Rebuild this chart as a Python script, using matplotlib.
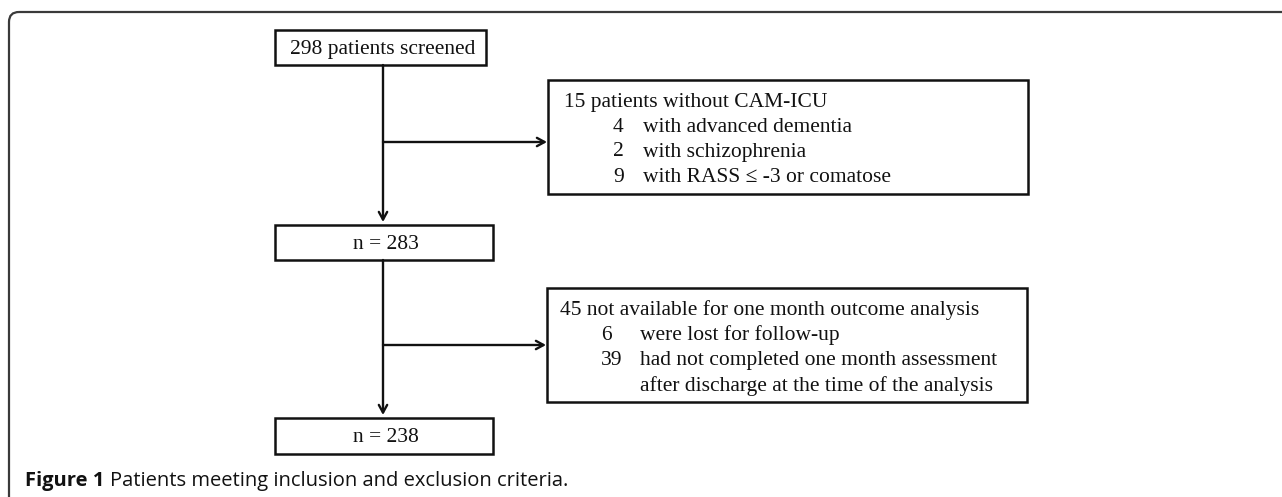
import matplotlib
matplotlib.use('Agg')
import matplotlib.pyplot as plt
from matplotlib.patches import Rectangle, FancyBboxPatch

#=======================================================================================
# Flowchart content
#=======================================================================================

main_labels = ['298 patients screened', 'n = 283', 'n = 238']

excl1_head = '15 patients without CAM-ICU'
excl1_nums = ['4', '2', '9']
excl1_text = ['with advanced dementia', 'with schizophrenia', 'with RASS \u2264 -3 or comatose']

excl2_head = '45 not available for one month outcome analysis'
excl2_nums = ['6', '39', '']
excl2_text = ['were lost for follow-up', 'had not completed one month assessment',
              'after discharge at the time of the analysis']

caption_bold = 'Figure 1'
caption_text = 'Patients meeting inclusion and exclusion criteria.'

#=======================================================================================
# Layout (pixels, origin top-left)
#=======================================================================================

W, H = 1282, 497
main_boxes = [(275, 30, 486, 65), (275, 225, 493, 260), (275, 418, 493, 454)]
excl_boxes = [(548, 80, 1028, 194), (547, 288, 1027, 402)]
xline = 383
branch_y = [142, 345]

serif = 'Liberation Serif'
fs = 15.5
lc = '#111111'
astyle = dict(arrowstyle='->,head_length=0.55,head_width=0.3', color=lc, lw=1.7,
              shrinkA=0, shrinkB=0)

fig = plt.figure(figsize=(W / 100, H / 100), dpi=100)
ax = fig.add_axes([0, 0, 1, 1])
ax.set_xlim(0, W)
ax.set_ylim(H, 0)
ax.axis('off')

#Outer frame (cut at right and bottom)
frame = FancyBboxPatch((9, 12), W + 40, H + 40, boxstyle='round,pad=0,rounding_size=10',
                       fill=False, ec='#3a3a3a', lw=1.6)
ax.add_patch(frame)

def box(b, lw=1.8):
    x0, y0, x1, y1 = b
    ax.add_patch(Rectangle((x0, y0), x1 - x0, y1 - y0, fill=False, ec=lc, lw=lw))

#Main column
for b, lab in zip(main_boxes, main_labels):
    box(b)
    ax.text((b[0] + b[2]) / 2 + 2, (b[1] + b[3]) / 2 + 2, lab, family=serif, fontsize=fs,
            ha='center', va='center', color=lc)

#Vertical arrows
for top, bot in zip(main_boxes[:-1], main_boxes[1:]):
    ax.annotate('', xy=(xline, bot[1] - 3), xytext=(xline, top[3]), arrowprops=astyle)

#Side arrows
for by, eb in zip(branch_y, excl_boxes):
    ax.annotate('', xy=(eb[0] - 1, by), xytext=(xline, by), arrowprops=astyle)

#Exclusion boxes
def excl(b, head, nums, texts, xhead, xnum, xtxt, y0, dy):
    box(b)
    ax.text(xhead, y0, head, family=serif, fontsize=fs, va='center', color=lc)
    for i, (n, t) in enumerate(zip(nums, texts)):
        yy = y0 + (i + 1) * dy
        if n:
            ax.text(xnum, yy, n, family=serif, fontsize=fs, va='center', color=lc)
        ax.text(xtxt, yy, t, family=serif, fontsize=fs, va='center', color=lc)

excl(excl_boxes[0], excl1_head, excl1_nums, excl1_text, 564, 613, 643, 102, 25)
excl(excl_boxes[1], excl2_head, excl2_nums, excl2_text, 560, 601, 640, 310, 25.3)

#Caption
t = ax.text(25, 481, caption_bold + ' ', family='Open Sans', fontweight='bold', fontsize=14.5,
            va='center', color='#111111')
ax.annotate(caption_text, xy=(1, 0.5), xycoords=t, va='center', family='Open Sans',
            fontsize=14.5, color='#111111')

plt.savefig('out.png', dpi=100)
